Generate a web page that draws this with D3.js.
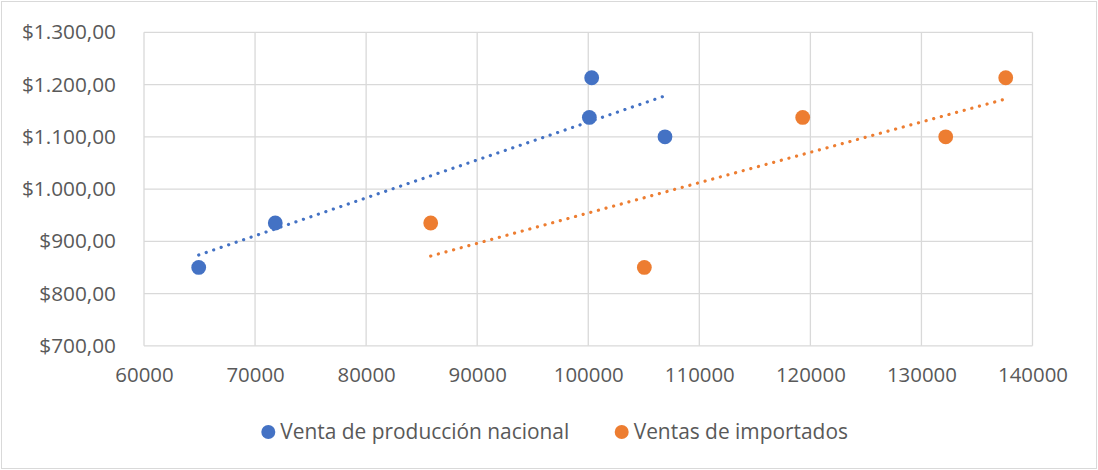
<!DOCTYPE html>
<html>
<head>
<meta charset="utf-8">
<script src="https://cdn.jsdelivr.net/npm/d3@7"></script>
<style>
  html, body { margin: 0; padding: 0; background: #fff; }
  svg { display: block; }
  text { font-family: "Open Sans", "Liberation Sans", sans-serif; fill: #595959; }
</style>
</head>
<body>
<svg id="chart" width="1098" height="470"></svg>
<script>
// Series: units sold (x) against price (y)
const nacionalX = [64925, 71820, 100310, 100100, 106910];
const nacionalY = [850, 935, 1213, 1137, 1100];
const importadosX = [85815, 105050, 119310, 132185, 137590];
const importadosY = [935, 850, 1137, 1100, 1213];

const seriesNames = ["Venta de producción nacional", "Ventas de importados"];
const seriesColors = ["#4472C4", "#ED7D31"];

const xTicks = [60000, 70000, 80000, 90000, 100000, 110000, 120000, 130000, 140000];
const yTicks = [700, 800, 900, 1000, 1100, 1200, 1300];

const W = 1098, H = 470;
const plot = { left: 144, right: 1032.5, top: 32.3, bottom: 345.8 };

const svg = d3.select("#chart");

// chart frame
svg.append("rect")
  .attr("x", 1.5).attr("y", 1.5)
  .attr("width", W - 3).attr("height", H - 3)
  .attr("fill", "#fff").attr("stroke", "#d9d9d9").attr("stroke-width", 1);

const x = d3.scaleLinear().domain([60000, 140000]).range([plot.left, plot.right]);
const y = d3.scaleLinear().domain([700, 1300]).range([plot.bottom, plot.top]);

// gridlines
const grid = svg.append("g");
grid.selectAll("line.v").data(xTicks).join("line")
  .attr("x1", d => x(d)).attr("x2", d => x(d))
  .attr("y1", plot.top).attr("y2", plot.bottom)
  .attr("stroke", "#d9d9d9").attr("stroke-width", 1.3);
grid.selectAll("line.h").data(yTicks).join("line")
  .attr("x1", plot.left).attr("x2", plot.right)
  .attr("y1", d => y(d)).attr("y2", d => y(d))
  .attr("stroke", "#d9d9d9").attr("stroke-width", 1.3);

// axes (labels only)
const fmtMoney = v => "$" + d3.format(",.2f")(v).replace(/,/g, "#").replace(".", ",").replace(/#/g, ".");

const yAxis = svg.append("g")
  .attr("transform", `translate(${plot.left},0)`)
  .call(d3.axisLeft(y).tickValues(yTicks).tickFormat(fmtMoney).tickSize(0).tickPadding(28));
yAxis.select(".domain").remove();
yAxis.selectAll("text").style("font-size", "20.8px").attr("fill", "#595959")
  .style("font-family", "\"Open Sans\", sans-serif");

const xAxis = svg.append("g")
  .attr("transform", `translate(0,${plot.bottom})`)
  .call(d3.axisBottom(x).tickValues(xTicks).tickFormat(d3.format("d")).tickSize(0).tickPadding(22));
xAxis.select(".domain").remove();
xAxis.selectAll("text").style("font-size", "20.4px").attr("fill", "#595959")
  .style("font-family", "\"Open Sans\", sans-serif");

// least-squares trendline across each series' x range
function trend(xs, ys) {
  const mx = d3.mean(xs), my = d3.mean(ys);
  const sxy = d3.sum(xs, (v, i) => (v - mx) * (ys[i] - my));
  const sxx = d3.sum(xs, v => (v - mx) * (v - mx));
  const b = sxy / sxx, a = my - b * mx;
  const x0 = d3.min(xs), x1 = d3.max(xs);
  return [[x0, a + b * x0], [x1, a + b * x1]];
}

const series = [
  { xs: nacionalX, ys: nacionalY, color: seriesColors[0] },
  { xs: importadosX, ys: importadosY, color: seriesColors[1] }
];

const line = d3.line().x(d => x(d[0])).y(d => y(d[1]));

series.forEach(s => {
  svg.append("path")
    .attr("d", line(trend(s.xs, s.ys)))
    .attr("fill", "none")
    .attr("stroke", s.color)
    .attr("stroke-width", 3.2)
    .attr("stroke-linecap", "round")
    .attr("stroke-dasharray", "0.1 7.8");
});

series.forEach(s => {
  svg.append("g").selectAll("circle")
    .data(s.xs.map((v, i) => [v, s.ys[i]]))
    .join("circle")
    .attr("cx", d => x(d[0]))
    .attr("cy", d => y(d[1]))
    .attr("r", 7.4)
    .attr("fill", s.color);
});

// legend
const legendItems = [
  { name: seriesNames[0], color: seriesColors[0], cx: 268.3 },
  { name: seriesNames[1], color: seriesColors[1], cx: 621.7 }
];
const legend = svg.append("g");
legendItems.forEach(it => {
  legend.append("circle").attr("cx", it.cx).attr("cy", 432).attr("r", 7).attr("fill", it.color);
  legend.append("text").attr("x", it.cx + 12).attr("y", 432).attr("dy", "0.35em")
    .style("font-size", "20.9px").text(it.name);
});
</script>
</body>
</html>
